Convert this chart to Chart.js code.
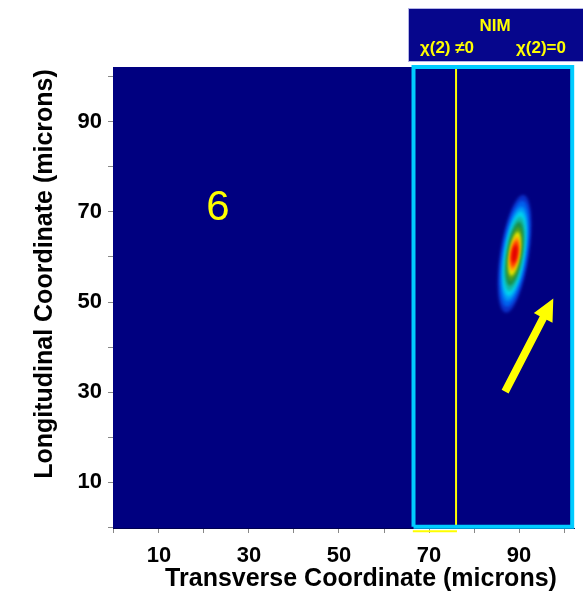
<!DOCTYPE html>
<html>
<head>
<meta charset="utf-8">
<script src="https://cdn.jsdelivr.net/npm/chart.js@4/dist/chart.umd.min.js"></script>
<style>
  body { margin: 0; background: #fff; }
  canvas { display: block; }
</style>
</head>
<body>
<canvas id="field" width="583" height="600"></canvas>
<script>
// axes (microns)
const axisRange = [-0.2, 102.2];
const tickValues = [0, 10, 20, 30, 40, 50, 60, 70, 80, 90, 100];
const tickLabels = [10, 30, 50, 70, 90];

// NIM slab and the chi(2) interface inside it
const slabX = [66.55, 101.8];
const slabY = [0.1, 102.2];
const interfaceX = 76.0;
const chi2StripX = [66.4, 76.2];
const chi2StripY = -0.9;

// pulse contours, outside -> in (centre, tilt, half axes in microns)
const pulseCenter = [89.0, 60.7];
const pulseTilt = 8.7;
const contourHalfLength = [13.2, 11.9, 10.6, 9.5, 8.4, 7.2, 6.0, 4.9, 3.9, 3.0, 2.0];
const contourHalfWidth = [3.2, 2.8, 2.45, 2.2, 1.95, 1.68, 1.42, 1.18, 1.0, 0.82, 0.6];
const contourColors = ['#0a30c8', '#0062ee', '#009af6', '#00d2f0', '#10b8a8', '#1a9048',
  '#50a020', '#e6e600', '#ff9a00', '#ff3a00', '#e40000'];

// propagation arrow and frame number
const arrowTail = [86.9, 30.1];
const arrowTip = [97.6, 50.8];
const frameLabel = '6';
const frameLabelAt = [23.1, 70.8];

const FONT = '"Liberation Sans", Arial, sans-serif';

const fieldPlugin = {
  id: 'field',
  beforeDatasetsDraw(chart) {
    const { ctx, chartArea: a, scales: { x, y } } = chart;
    ctx.save();
    ctx.fillStyle = '#000080';
    ctx.fillRect(a.left, a.top, a.right - a.left, a.bottom - a.top);
    ctx.beginPath();
    ctx.rect(a.left, a.top, a.right - a.left, a.bottom - a.top);
    ctx.clip();
    const cx = x.getPixelForValue(pulseCenter[0]);
    const cy = y.getPixelForValue(pulseCenter[1]);
    const kx = x.getPixelForValue(1) - x.getPixelForValue(0);
    const ky = y.getPixelForValue(0) - y.getPixelForValue(1);
    ctx.filter = 'blur(1.6px)';
    contourColors.forEach((c, i) => {
      ctx.beginPath();
      ctx.ellipse(cx, cy, contourHalfWidth[i] * kx, contourHalfLength[i] * ky,
        pulseTilt * Math.PI / 180, 0, Math.PI * 2);
      ctx.fillStyle = c;
      ctx.fill();
    });
    ctx.restore();
  },
  afterDatasetsDraw(chart) {
    const { ctx, scales: { x, y } } = chart;
    ctx.save();
    // arrow
    const x0 = x.getPixelForValue(arrowTail[0]), y0 = y.getPixelForValue(arrowTail[1]);
    const x1 = x.getPixelForValue(arrowTip[0]), y1 = y.getPixelForValue(arrowTip[1]);
    const len = Math.hypot(x1 - x0, y1 - y0);
    ctx.translate(x0, y0);
    ctx.rotate(Math.atan2(y1 - y0, x1 - x0));
    const head = 22, hw = 10.5, sw = 3.9;
    ctx.beginPath();
    ctx.moveTo(0, -sw);
    ctx.lineTo(len - head, -sw);
    ctx.lineTo(len - head, -hw);
    ctx.lineTo(len, 0);
    ctx.lineTo(len - head, hw);
    ctx.lineTo(len - head, sw);
    ctx.lineTo(0, sw);
    ctx.closePath();
    ctx.fillStyle = '#ffff00';
    ctx.fill();
    ctx.restore();

    ctx.save();
    ctx.fillStyle = '#ffff00';
    ctx.font = '42px ' + FONT;
    ctx.textAlign = 'center';
    ctx.textBaseline = 'middle';
    ctx.fillText(frameLabel, x.getPixelForValue(frameLabelAt[0]), y.getPixelForValue(frameLabelAt[1]));
    ctx.restore();
  },
  afterDraw(chart) {
    const { ctx } = chart;
    ctx.save();
    // axis titles
    ctx.fillStyle = '#000';
    ctx.font = 'bold 25px ' + FONT;
    ctx.textAlign = 'center';
    ctx.textBaseline = 'middle';
    ctx.fillText('Transverse Coordinate (microns)', 361, 579);
    ctx.translate(45, 274);
    ctx.rotate(-Math.PI / 2);
    ctx.fillText('Longitudinal Coordinate (microns)', 0, 0);
    ctx.restore();

    // NIM key box
    ctx.save();
    ctx.fillStyle = '#06068c';
    ctx.fillRect(408, 8, 176, 54);
    ctx.strokeStyle = '#b4b4e6';
    ctx.lineWidth = 1;
    ctx.strokeRect(408.5, 8.5, 176, 53);
    ctx.fillStyle = '#ffff00';
    ctx.font = 'bold 17px ' + FONT;
    ctx.textAlign = 'center';
    ctx.textBaseline = 'middle';
    ctx.fillText('NIM', 495, 26);
    ctx.fillText('χ(2) ≠0', 447, 48);
    ctx.fillText('χ(2)=0', 541, 48);
    ctx.restore();
  }
};

const axis = (fit) => ({
  type: 'linear',
  min: axisRange[0],
  max: axisRange[1],
  afterBuildTicks: (s) => { s.ticks = tickValues.map((v) => ({ value: v })); },
  afterFit: fit,
  ticks: {
    callback: (v) => (tickLabels.includes(v) ? String(v) : ''),
    color: '#000',
    font: { family: FONT, size: 22, weight: 'bold' },
    maxRotation: 0,
    autoSkip: false,
  },
  grid: { drawOnChartArea: false, drawTicks: true, tickLength: 5, color: '#888' },
  border: { display: true, color: '#000050' },
});

const xAxis = axis((s) => { s.height = 72; });
xAxis.ticks.padding = 10;
const yAxis = axis((s) => { s.width = 113; });
yAxis.ticks.padding = 6;

new Chart(document.getElementById('field'), {
  type: 'scatter',
  data: {
    datasets: [
      {
        data: [{ x: chi2StripX[0], y: chi2StripY }, { x: chi2StripX[1], y: chi2StripY }],
        showLine: true, borderColor: '#ffff00', borderWidth: 2, pointRadius: 0, clip: false, order: 0,
      },
      {
        data: [
          { x: slabX[0], y: slabY[0] }, { x: slabX[0], y: slabY[1] },
          { x: slabX[1], y: slabY[1] }, { x: slabX[1], y: slabY[0] },
          { x: slabX[0], y: slabY[0] },
        ],
        showLine: true, borderColor: '#00ccff', borderWidth: 4, pointRadius: 0, clip: false, order: 1,
        borderJoinStyle: 'miter',
      },
      {
        data: [{ x: interfaceX, y: slabY[0] }, { x: interfaceX, y: slabY[1] }],
        showLine: true, borderColor: '#ffff00', borderWidth: 2, pointRadius: 0, clip: false, order: 2,
      },
    ],
  },
  options: {
    responsive: false,
    animation: false,
    layout: { padding: { top: 67, right: 9, left: 0, bottom: 0 } },
    plugins: { legend: { display: false }, tooltip: { enabled: false } },
    scales: { x: xAxis, y: yAxis },
  },
  plugins: [fieldPlugin],
});
</script>
</body>
</html>
